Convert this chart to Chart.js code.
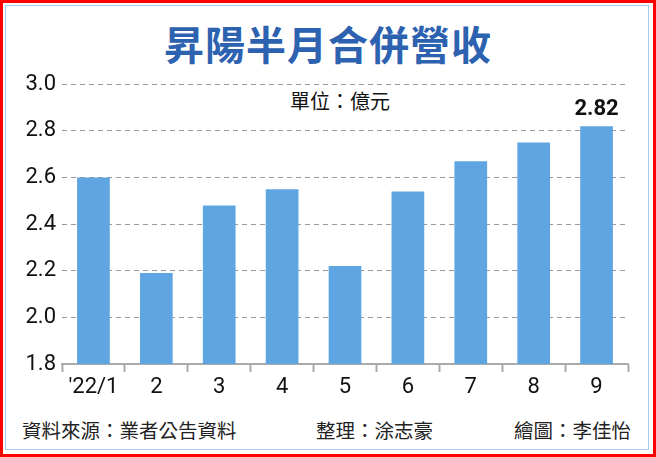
<!DOCTYPE html>
<html><head><meta charset="utf-8">
<script src="https://cdn.jsdelivr.net/npm/chart.js@4"></script>
<style>
body{margin:0;width:656px;height:457px;overflow:hidden;background:#fff;font-family:"Noto Sans CJK TC",Roboto,sans-serif}
#frame{position:absolute;left:0;top:0;width:650px;height:451px;border:3px solid #f00}
#inner{position:absolute;left:5px;top:5px;width:642px;height:443px;border:1px solid #a8cbe8}
#title{position:absolute;left:0;width:656px;top:16px;text-align:center;font-size:40px;font-weight:bold;color:#2d62b0;line-height:54px;letter-spacing:1px}
.note{position:absolute;top:417px;font-size:19.5px;color:#222;line-height:26px}
#unit{position:absolute;left:290px;top:86px;font-size:20px;color:#111}
#cw{position:absolute;left:10px;top:65px;width:636px;height:345px}
</style></head><body>
<div id="frame"></div><div id="inner"></div>
<div id="title">昇陽半月合併營收</div>
<div id="unit">單位：億元</div>
<div class="note" style="left:22px">資料來源：業者公告資料</div>
<div class="note" style="left:316px">整理：涂志豪</div>
<div class="note" style="left:514px">繪圖：李佳怡</div>
<div id="cw"><canvas id="c"></canvas></div>
<script>
const categories=["'22/1","2","3","4","5","6","7","8","9"];
const revenue=[2.60,2.19,2.48,2.55,2.22,2.54,2.67,2.75,2.82];
const yTicks=[1.8,2.0,2.2,2.4,2.6,2.8,3.0];
const labelPlugin={id:'lbl',afterDatasetsDraw(ch){const m=ch.getDatasetMeta(0).data;const i=revenue.length-1;const ctx=ch.ctx;ctx.save();ctx.font='bold 22px Roboto';ctx.fillStyle='#111';ctx.textAlign='center';ctx.textBaseline='bottom';ctx.fillText(revenue[i].toFixed(2),m[i].x,m[i].y-6);ctx.restore();}};
new Chart(document.getElementById('c'),{type:'bar',
data:{labels:categories,datasets:[{data:revenue,backgroundColor:'#5fa5e1',barPercentage:0.52,categoryPercentage:1}]},
options:{responsive:true,maintainAspectRatio:false,animation:false,
layout:{padding:{top:3,right:18}},
plugins:{legend:{display:false},tooltip:{enabled:false}},
scales:{
x:{grid:{drawOnChartArea:false,tickLength:8,color:'#aaa',tickWidth:2},border:{color:'#aaa',width:2},
 ticks:{color:'#111',font:{family:'Roboto',size:22},padding:2},afterFit(a){a.height=46;}},
y:{min:1.8,max:3.0,afterBuildTicks(a){a.ticks=yTicks.map(v=>({value:v}));},
 grid:{color:'#999',tickLength:6,drawTicks:false},border:{display:false,dash:[5,4]},
 ticks:{color:'#111',font:{family:'Roboto',size:22},padding:6,callback:v=>v.toFixed(1)},afterFit(a){a.width=52;}}
}},plugins:[labelPlugin]});
</script></body></html>
